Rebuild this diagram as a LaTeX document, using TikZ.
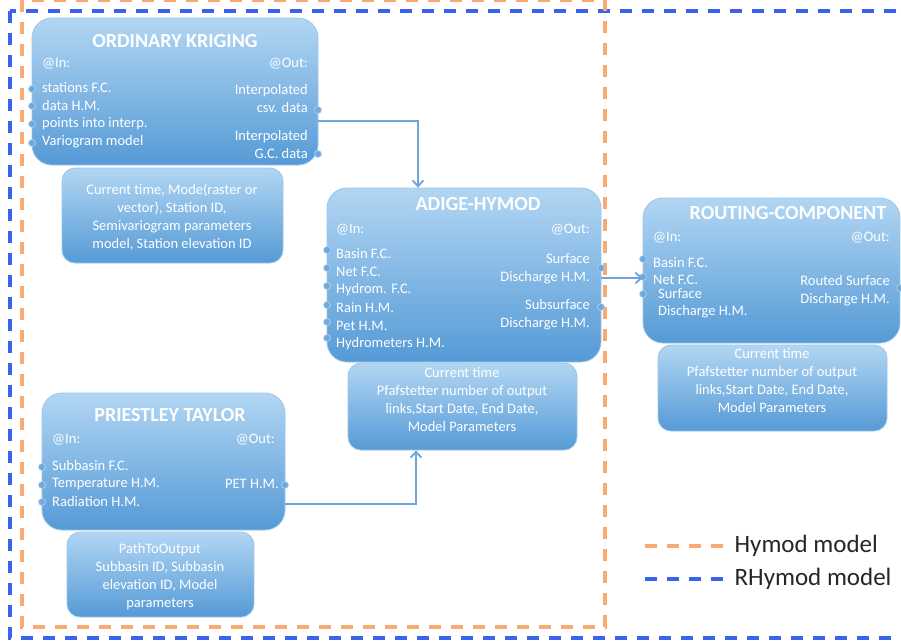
\documentclass[tikz,border=0pt]{standalone}
\usepackage{fontspec}
\setmainfont{Carlito}
\usetikzlibrary{arrows.meta}
\definecolor{boxtop}{HTML}{B2D6F3}
\definecolor{boxbot}{HTML}{559AD6}
\definecolor{boxedge}{HTML}{9CC6EA}
\definecolor{wire}{HTML}{6EA6D9}
\definecolor{portblue}{HTML}{6FA9DD}
\definecolor{hymodorange}{HTML}{F8AA72}
\definecolor{rhymodblue}{HTML}{3A62EC}

\begin{document}
\begin{tikzpicture}[
    x=1pt, y=-1pt,
    block/.style={draw=boxedge, line width=0.8pt, rounded corners=20pt,
        top color=boxtop, bottom color=boxbot, inner sep=0pt},
    parbox/.style={block, rounded corners=13pt},
    title/.style={text=white, inner sep=0pt, font=\fontsize{20}{22}\selectfont\bfseries},
    inlab/.style={text=white, inner sep=0pt, anchor=west, font=\fontsize{14.5}{18}\selectfont},
    outlab/.style={inlab, anchor=east, align=right},
    partext/.style={text=white, inner sep=0pt, align=center, font=\fontsize{14.5}{18}\selectfont},
    port/.style={circle, fill=portblue, draw=boxtop, line width=0.6pt, inner sep=0pt, minimum size=7pt},
    link/.style={draw=wire, line width=1.8pt, -{Straight Barb[length=6pt, width=11pt]}},
    hymodframe/.style={draw=hymodorange, line width=3.2pt, dash pattern=on 12pt off 10pt},
    rhymodframe/.style={draw=rhymodblue, line width=3.2pt, dash pattern=on 12pt off 10pt}
]
    \useasboundingbox (0,0) rectangle (901,643);

    % model frames
    \draw[rhymodframe] (10,11) rectangle (915,638);
    \draw[hymodframe] (22,0) rectangle (605,627);

    % ORDINARY KRIGING
    \node[block, minimum width=286pt, minimum height=147pt] (ok) at (175,91.5) {};
    \node[parbox, minimum width=221pt, minimum height=95pt] (okp) at (172.5,215.5) {};
    \node[title] (okt) at (175,41) {ORDINARY KRIGING};
    \node[inlab] (okin) at (42,64) {@In:};
    \node[outlab] (okout) at (308,64) {@Out:};
    \node[inlab] (ok1) at (42,88) {stations F.C.};
    \node[inlab] (ok2) at (42,106) {data H.M.};
    \node[inlab] (ok3) at (42,124) {points into interp.};
    \node[inlab] (ok4) at (42,142) {Variogram model};
    \node[outlab] (okcsv) at (308,99) {Interpolated\\csv. data};
    \node[outlab] (okgc) at (308,145) {Interpolated\\G.C. data};
    \node[port] at (32,89) {};
    \node[port] at (32,106) {};
    \node[port] at (32,124) {};
    \node[port] at (32,143) {};
    \node[port] at (318,110) {};
    \node[port] at (318,154) {};
    \node[partext] (okpar) at (172,217) {Current time, Mode(raster or\\vector), Station ID,\\Semivariogram parameters\\model, Station elevation ID};

    % ADIGE-HYMOD
    \node[block, minimum width=274pt, minimum height=174pt] (hy) at (464,275) {};
    \node[parbox, minimum width=229pt, minimum height=87pt] (hyp) at (462.5,406.5) {};
    \node[title] (hyt) at (478,204) {ADIGE-HYMOD};
    \node[inlab] (hyin) at (336,230) {@In:};
    \node[outlab] (hyout) at (590,230) {@Out:};
    \node[inlab] (hy1) at (336,254) {Basin F.C.};
    \node[inlab] (hy2) at (336,272) {Net F.C.};
    \node[inlab] (hy3) at (336,290) {Hydrom. F.C.};
    \node[inlab] (hy4) at (336,308) {Rain H.M.};
    \node[inlab] (hy5) at (336,326) {Pet H.M.};
    \node[inlab] (hy6) at (336,344) {Hydrometers H.M.};
    \node[outlab] (hysurf) at (590,269) {Surface\\Discharge H.M.};
    \node[outlab] (hysub) at (590,315) {Subsurface\\Discharge H.M.};
    \node[port] at (327,250) {};
    \node[port] at (327,268) {};
    \node[port] at (327,286) {};
    \node[port] at (327,305) {};
    \node[port] at (327,322) {};
    \node[port] at (327,338) {};
    \node[port] at (601,268) {};
    \node[port] at (601,307) {};
    \node[partext] (hypar) at (462,400) {Current time\\Pfafstetter number of output\\links,Start Date, End Date,\\Model Parameters};

    % ROUTING-COMPONENT
    \node[block, minimum width=257pt, minimum height=145pt] (rc) at (771.5,270.5) {};
    \node[parbox, minimum width=229pt, minimum height=86pt] (rcp) at (772.5,388) {};
    \node[title] (rct) at (788,213) {ROUTING-COMPONENT};
    \node[inlab] (rcin) at (653,238) {@In:};
    \node[outlab] (rcout) at (890,238) {@Out:};
    \node[inlab] (rc1) at (653,263) {Basin F.C.};
    \node[inlab] (rc2) at (653,280) {Net F.C.};
    \node[inlab] (rc3) at (658,294) {Surface};
    \node[inlab] (rc4) at (658,312) {Discharge H.M.};
    \node[outlab] (rcsurf) at (890,291) {Routed Surface\\Discharge H.M.};
    \node[port] at (643,259) {};
    \node[port] at (643,277) {};
    \node[port] at (643,294) {};
    \node[port] at (900,288) {};
    \node[partext] (rcpar) at (772,381) {Current time\\Pfafstetter number of output\\links,Start Date, End Date,\\Model Parameters};

    % PRIESTLEY TAYLOR
    \node[block, minimum width=243pt, minimum height=137pt] (pt) at (163.5,461.5) {};
    \node[parbox, minimum width=187pt, minimum height=85pt] (ptp) at (160.5,574.5) {};
    \node[title] (ptt) at (170,415) {PRIESTLEY TAYLOR};
    \node[inlab] (ptin) at (52,440) {@In:};
    \node[outlab] (ptout) at (275,440) {@Out:};
    \node[inlab] (pt1) at (52,466) {Subbasin F.C.};
    \node[inlab] (pt2) at (52,484) {Temperature H.M.};
    \node[inlab] (pt3) at (52,502) {Radiation H.M.};
    \node[outlab] (ptpet) at (279,484) {PET H.M.};
    \node[port] at (42,467) {};
    \node[port] at (42,485) {};
    \node[port] at (42,502) {};
    \node[port] at (285,485) {};
    \node[partext] (ptpar) at (160,577) {PathToOutput\\Subbasin ID, Subbasin\\elevation ID, Model\\parameters};

    % connectors
    \coordinate (okwire) at (318,121);
    \coordinate (ptwire) at (285,504);
    \coordinate (hywire) at (601,278);
    \draw[link] (okwire) -| ([xshift=-46pt]hy.north);
    \draw[link] (ptwire) -| ([xshift=-46.5pt]hyp.south);
    \draw[link] (hywire) -- (hywire -| rc.west);

    % legend
    \coordinate (lega) at (645,546);
    \coordinate (legb) at (645,579);
    \draw[hymodframe] (lega) -- ++(78,0) node[right=10pt, text=black!85, inner sep=0pt, font=\fontsize{25}{28}\selectfont] (leghy) {Hymod model};
    \draw[rhymodframe] (legb) -- ++(78,0) node[right=10pt, text=black!85, inner sep=0pt, font=\fontsize{25}{28}\selectfont] (legrhy) {RHymod model};
\end{tikzpicture}
\end{document}
